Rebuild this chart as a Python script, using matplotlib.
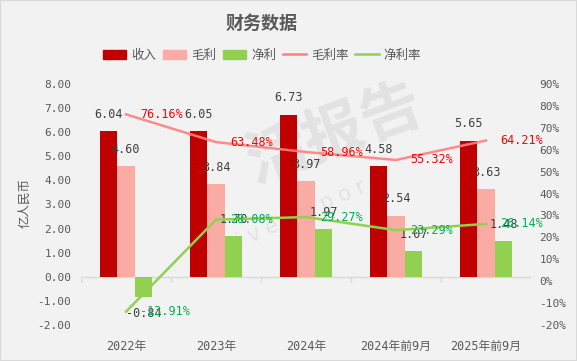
import numpy as np
import matplotlib
matplotlib.use("Agg")
import matplotlib.pyplot as plt
from matplotlib.patches import Patch, Rectangle
from matplotlib.lines import Line2D
from matplotlib.ticker import FuncFormatter

categories = ["2022年", "2023年", "2024年", "2024年前9月", "2025年前9月"]
revenue = [6.04, 6.05, 6.73, 4.58, 5.65]
gross_profit = [4.60, 3.84, 3.97, 2.54, 3.63]
net_profit = [-0.84, 1.70, 1.97, 1.07, 1.48]
gross_margin = [76.16, 63.48, 58.96, 55.32, 64.21]
net_margin = [-13.91, 28.08, 29.27, 23.29, 26.14]

plt.rcParams['font.family'] = ['DejaVu Sans Mono', 'Noto Sans CJK SC']
cjk = ['Noto Sans CJK SC', 'DejaVu Sans']
grey = '#595959'
bg = '#F2F2F2'

fig = plt.figure(figsize=(5.77, 3.61), dpi=100, facecolor=bg)
fig.patches.append(Rectangle((0, 0), 1, 1, transform=fig.transFigure, fill=False,
                             edgecolor='#D9D9D9', linewidth=1.5))
ax = fig.add_axes([81/577, 36/361, 450/577, 241/361])
ax.set_facecolor(bg)
ax2 = ax.twinx()

# faint watermark
ax.text(335/577, 1 - 135/361, '活报告', transform=fig.transFigure, rotation=20,
        ha='center', va='center', fontsize=44, fontweight='bold', color='#BFBFBF',
        alpha=0.3, family=cjk, zorder=0.5)
ax.text(300/577, 1 - 215/361, 'L i v e R e p o r t', transform=fig.transFigure, rotation=24,
        ha='center', va='center', fontsize=15, color='#BFBFBF', alpha=0.3,
        family=['DejaVu Sans'], zorder=0.5)

x = np.arange(len(categories))
w = 0.195
c_rev, c_gp, c_np = '#C00000', '#FAABA3', '#92D050'
ax.bar(x - w, revenue, w, color=c_rev, zorder=2)
ax.bar(x, gross_profit, w, color=c_gp, zorder=2)
ax.bar(x + w, net_profit, w, color=c_np, zorder=2)

for xs, vals in [(x - w, revenue), (x, gross_profit), (x + w, net_profit)]:
    for xi, v in zip(xs, vals):
        off = 12 if v >= 0 else -12
        ax.annotate('%.2f' % v, (xi, v), xytext=(0, off), textcoords='offset points',
                    ha='center', va='center', fontsize=8.5, color='#404040', zorder=5)

ax2.plot(x, np.array(gross_margin) / 100, color='#FF8080', lw=1.8, alpha=0.9, zorder=3)
ax2.plot(x, np.array(net_margin) / 100, color='#92D050', lw=1.8, zorder=3)
for vals, col in [(gross_margin, '#FF0000'), (net_margin, '#00B050')]:
    for xi, v in zip(x, vals):
        ax2.annotate('%.2f%%' % v, (xi, v / 100), xytext=(10, 0), textcoords='offset points',
                     ha='left', va='center', fontsize=8.5, color=col, zorder=5)

ax.set_xlim(-0.5, len(categories) - 0.5)
ax.set_ylim(-2, 8)
ax.set_yticks(np.arange(-2, 9, 1))
ax.yaxis.set_major_formatter(FuncFormatter(lambda v, p: '%.2f' % v))
ax2.set_ylim(-0.2, 0.9)
ax2.set_yticks(np.arange(-0.2, 0.91, 0.1))
ax2.yaxis.set_major_formatter(FuncFormatter(lambda v, p: '%d%%' % round(v * 100)))

for a in (ax, ax2):
    for s in a.spines.values():
        s.set_visible(False)
ax.tick_params(axis='y', length=0, pad=7, labelsize=8, labelcolor=grey)
ax2.tick_params(axis='y', length=0, pad=6, labelsize=8, labelcolor=grey)
ax.set_xticks(x)
ax.set_xticklabels(categories)
ax.tick_params(axis='x', length=0, pad=11, labelsize=8.5, labelcolor=grey)

# category axis line at zero with boundary ticks
ax.axhline(0, color='#D9D9D9', lw=1, zorder=1)
ax.vlines(np.arange(len(categories) + 1) - 0.5, -0.2, 0, color='#D9D9D9', lw=1, zorder=1)

fig.text(25/577, 1 - 203/361, '亿人民币', rotation=90, ha='center', va='center',
         fontsize=9, color=grey, family=cjk)
fig.text(262/577, 1 - 23/361, '财务数据', ha='center', va='center', fontsize=13,
         fontweight='bold', color=grey, family=cjk)

handles = [Patch(color=c_rev), Patch(color=c_gp), Patch(color=c_np),
           Line2D([], [], color='#FF8080', lw=1.8), Line2D([], [], color='#92D050', lw=1.8)]
labels = ['收入', '毛利', '净利', '毛利率', '净利率']
fig.legend(handles, labels, loc='center', bbox_to_anchor=(262/577, 1 - 55/361), ncol=5,
           frameon=False, handlelength=1.9, handleheight=0.7, handletextpad=0.4,
           columnspacing=0.5, prop={'family': cjk, 'size': 9}, labelcolor=grey)

fig.savefig('out.png', dpi=100, facecolor=bg)
